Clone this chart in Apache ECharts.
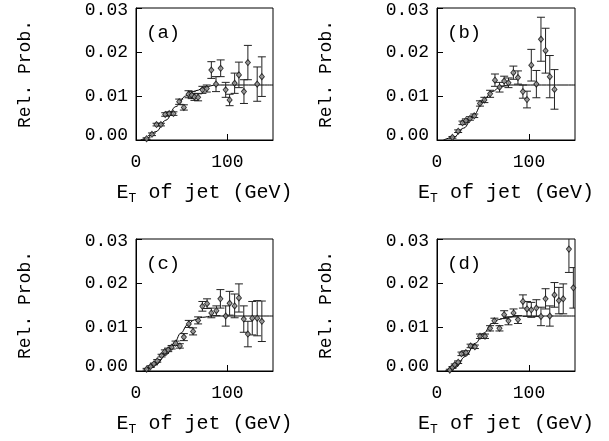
<!DOCTYPE html>
<html>
<head>
<meta charset="utf-8">
<script src="https://cdn.jsdelivr.net/npm/echarts@6/dist/echarts.min.js"></script>
<style>
html,body{margin:0;padding:0;background:#fff;}
#chart{width:609px;height:441px;}
</style>
</head>
<body>
<div id="chart"></div>
<script>
// ---- data ----
const panelLabels = ['(a)', '(b)', '(c)', '(d)'];
const yTicks = [0.00, 0.01, 0.02, 0.03];
const xTicks = [0, 100];

const xA = [11.6, 17.5, 22.5, 27.3, 32, 36.4, 41, 47.3, 52.4, 57.5, 61, 64, 68, 72.7, 77.5, 82.5, 87.6, 92.7, 98.2, 102.5, 108, 112.7, 118.2, 122.5, 132.7, 137.8];
const yA = [0.0003, 0.0013, 0.0035, 0.0035, 0.0058, 0.006, 0.006, 0.0087, 0.0074, 0.0104, 0.0102, 0.0098, 0.0097, 0.0114, 0.0117, 0.0159, 0.0127, 0.0163, 0.0114, 0.0091, 0.0129, 0.0148, 0.011, 0.0176, 0.0127, 0.0144];
const eA = [0.0002, 0.0003, 0.0003, 0.0003, 0.0004, 0.0004, 0.0004, 0.0006, 0.0006, 0.0008, 0.0008, 0.0008, 0.0008, 0.0008, 0.0008, 0.0019, 0.0017, 0.0019, 0.0017, 0.0013, 0.0023, 0.0029, 0.0027, 0.0039, 0.0039, 0.0045];

const xB = [16.8, 23, 27.7, 31.4, 35.8, 40.5, 46.7, 51.5, 57.7, 63, 68, 73, 77.7, 83, 88, 93.4, 97.8, 102.5, 108, 113, 118, 122.6, 127.7];
const yB = [0.0006, 0.002, 0.0039, 0.0044, 0.0049, 0.0055, 0.0083, 0.0091, 0.0105, 0.0136, 0.012, 0.0134, 0.013, 0.0153, 0.0142, 0.011, 0.0092, 0.017, 0.0127, 0.0229, 0.0203, 0.0144, 0.0115];
const eB = [0.0002, 0.0003, 0.0004, 0.0004, 0.0004, 0.0004, 0.0006, 0.0006, 0.0008, 0.0014, 0.0011, 0.0011, 0.0011, 0.0015, 0.0015, 0.0015, 0.0019, 0.0036, 0.0031, 0.0050, 0.0051, 0.0048, 0.0045];

const xC = [11.6, 16, 19.6, 23.3, 28, 31.6, 35.3, 39, 43.3, 48, 52.4, 57.8, 62.5, 68, 72.7, 77.8, 82.5, 88, 92.4, 98.2, 102.5, 108, 112.7, 118, 122.5, 127.3, 132.7, 137.8];
const yC = [0.0004, 0.001, 0.0016, 0.0023, 0.0035, 0.0044, 0.0048, 0.0054, 0.0063, 0.0057, 0.0077, 0.0107, 0.009, 0.0115, 0.0147, 0.0153, 0.0132, 0.0137, 0.0164, 0.0125, 0.0154, 0.0148, 0.0166, 0.0118, 0.0084, 0.012, 0.012, 0.0113];
const eC = [0.0002, 0.0002, 0.0002, 0.0003, 0.0003, 0.0004, 0.0004, 0.0004, 0.0005, 0.0005, 0.0008, 0.0008, 0.0008, 0.0008, 0.0011, 0.0011, 0.0011, 0.0011, 0.0021, 0.0023, 0.0027, 0.0027, 0.0032, 0.003, 0.0029, 0.0038, 0.004, 0.0046];

const xD = [13.9, 16.8, 19.3, 23, 26.6, 31.4, 36.5, 41.2, 46.7, 52.2, 57.7, 62.4, 67.9, 73, 77.7, 83.2, 88, 93.4, 97.8, 102.5, 108, 113, 118, 122.6, 127.7, 132.5, 137.2, 143.4, 148.2];
const yD = [0.0002, 0.0008, 0.0014, 0.002, 0.0039, 0.0042, 0.0057, 0.0055, 0.0079, 0.0079, 0.0097, 0.0114, 0.0097, 0.0128, 0.0114, 0.0132, 0.0117, 0.0158, 0.0141, 0.0139, 0.0143, 0.0124, 0.0164, 0.0125, 0.0173, 0.016, 0.0164, 0.0277, 0.0189];
const eD = [0.0002, 0.0002, 0.0002, 0.0003, 0.0004, 0.0004, 0.0004, 0.0004, 0.0005, 0.0005, 0.0006, 0.0006, 0.0006, 0.0009, 0.0009, 0.0009, 0.0009, 0.0015, 0.0017, 0.0017, 0.0019, 0.0021, 0.0023, 0.0023, 0.0028, 0.003, 0.0034, 0.0053, 0.0046];

// fitted curves
const cxA = [5, 11, 21.8, 32.7, 43.6, 54.5, 65.5, 76.4, 87.3, 150];
const cyA = [0, 0.0003, 0.0019, 0.0045, 0.0076, 0.0100, 0.0112, 0.0121, 0.0125, 0.0125];
const cxB = [7, 18, 29, 40, 50.7, 60, 69, 78, 150];
const cyB = [0, 0.0006, 0.0027, 0.0057, 0.0091, 0.0110, 0.0121, 0.0125, 0.0125];
const cxC = [9, 21.8, 32.7, 41.8, 49, 56.4, 63.6, 72.7, 83.6, 150];
const cyC = [0, 0.0014, 0.0036, 0.0063, 0.0086, 0.0105, 0.0116, 0.0122, 0.0125, 0.0125];
const cxD = [9, 20, 30.8, 41.7, 50.7, 59.8, 67, 76, 87, 150];
const cyD = [0, 0.0008, 0.0033, 0.0063, 0.0086, 0.0108, 0.0117, 0.0122, 0.0125, 0.0125];

// ---- build ----
const FONT = 'Liberation Mono';
const panels = [
  {x: xA, y: yA, e: eA, cx: cxA, cy: cyA},
  {x: xB, y: yB, e: eB, cx: cxB, cy: cyB},
  {x: xC, y: yC, e: eC, cx: cxC, cy: cyC},
  {x: xD, y: yD, e: eD, cx: cxD, cy: cyD}
];
const gridPos = [
  {left: 136, top: 8, width: 137, height: 132},
  {left: 437, top: 8, width: 138, height: 132},
  {left: 136, top: 239, width: 137, height: 132},
  {left: 437, top: 239, width: 138, height: 132}
];
const labelPos = [[146, 23], [447, 23], [146, 254], [447, 254]];

const yMin = yTicks[0], yMax = yTicks[yTicks.length - 1];
const grid = [], xAxis = [], yAxis = [], series = [], title = [];
gridPos.forEach((g, i) => {
  grid.push(Object.assign({show: true, borderColor: '#000', borderWidth: 1, backgroundColor: 'transparent'}, g));
  xAxis.push({
    type: 'value', gridIndex: i, min: xTicks[0], max: 150, interval: xTicks[1] - xTicks[0],
    axisLine: {show: true, lineStyle: {color: '#000', width: 1}},
    axisTick: {show: true, inside: true, length: 6, lineStyle: {color: '#000'}},
    splitLine: {show: false},
    axisLabel: {show: true, showMaxLabel: false, margin: 13, color: '#000', fontFamily: FONT, fontSize: 18,
      formatter: v => xTicks.indexOf(v) >= 0 ? String(v) : ''},
    name: '{e|E}{t|T}{r| of jet (GeV)}', nameLocation: 'middle', nameGap: 41,
    nameTextStyle: {
      rich: {
        e: {fontFamily: FONT, fontSize: 20, color: '#000', lineHeight: 24},
        t: {fontFamily: FONT, fontSize: 13, color: '#000', lineHeight: 13, verticalAlign: 'bottom'},
        r: {fontFamily: FONT, fontSize: 20, color: '#000', lineHeight: 24}
      }
    }
  });
  yAxis.push({
    type: 'value', gridIndex: i, min: yMin, max: yMax, interval: yTicks[1] - yTicks[0],
    axisLine: {show: true, lineStyle: {color: '#000', width: 1}},
    axisTick: {show: true, inside: true, length: 6, lineStyle: {color: '#000'}},
    splitLine: {show: false},
    axisLabel: {
      margin: 8, color: '#000', fontFamily: FONT, fontSize: 18,
      formatter: v => {
        const s = v.toFixed(2);
        if (Math.abs(v - yMin) < 1e-9) return '{lo|' + s + '}';
        if (Math.abs(v - yMax) < 1e-9) return '{hi|' + s + '}';
        return s;
      },
      rich: {
        lo: {fontFamily: FONT, fontSize: 18, color: '#000', padding: [0, 0, 9, 0]},
        hi: {fontFamily: FONT, fontSize: 18, color: '#000', padding: [5, 0, 0, 0]}
      }
    },
    name: 'Rel. Prob.', nameLocation: 'middle', nameGap: 102, nameRotate: 90,
    nameTextStyle: {fontFamily: FONT, fontSize: 18, color: '#000'}
  });
  const p = panels[i];
  series.push({
    type: 'line', xAxisIndex: i, yAxisIndex: i, data: p.cx.map((x, k) => [x, p.cy[k]]),
    showSymbol: false, symbol: 'none', smooth: 0.4, smoothMonotone: 'x',
    lineStyle: {color: '#000', width: 1}, silent: true, z: 2
  });
  series.push({
    type: 'custom', xAxisIndex: i, yAxisIndex: i, clip: true, z: 3,
    data: p.x.map((x, k) => [x, p.y[k], p.e[k]]),
    renderItem: function (params, api) {
      const x = api.value(0), y = api.value(1), e = api.value(2);
      const t = api.coord([x, y + e]);
      const b = api.coord([x, y - e]);
      const cw = 4;
      const st = {stroke: '#222', lineWidth: 1, fill: null};
      return {type: 'group', children: [
        {type: 'line', shape: {x1: t[0], y1: t[1], x2: b[0], y2: b[1]}, style: st},
        {type: 'line', shape: {x1: t[0] - cw, y1: t[1], x2: t[0] + cw, y2: t[1]}, style: st},
        {type: 'line', shape: {x1: b[0] - cw, y1: b[1], x2: b[0] + cw, y2: b[1]}, style: st}
      ]};
    }
  });
  series.push({
    type: 'scatter', xAxisIndex: i, yAxisIndex: i, clip: true, z: 4,
    data: p.x.map((x, k) => [x, p.y[k]]),
    symbol: 'diamond', symbolSize: [5, 6],
    itemStyle: {color: '#9a9a9a', borderColor: '#111', borderWidth: 1}
  });
  title.push({
    text: panelLabels[i], left: labelPos[i][0], top: labelPos[i][1], padding: 0,
    textStyle: {fontFamily: FONT, fontSize: 19, fontWeight: 'normal', color: '#000'}
  });
});

const chart = echarts.init(document.getElementById('chart'), null, {renderer: 'canvas'});
chart.setOption({animation: false, backgroundColor: '#fff', title, grid, xAxis, yAxis, series});
</script>
</body>
</html>
